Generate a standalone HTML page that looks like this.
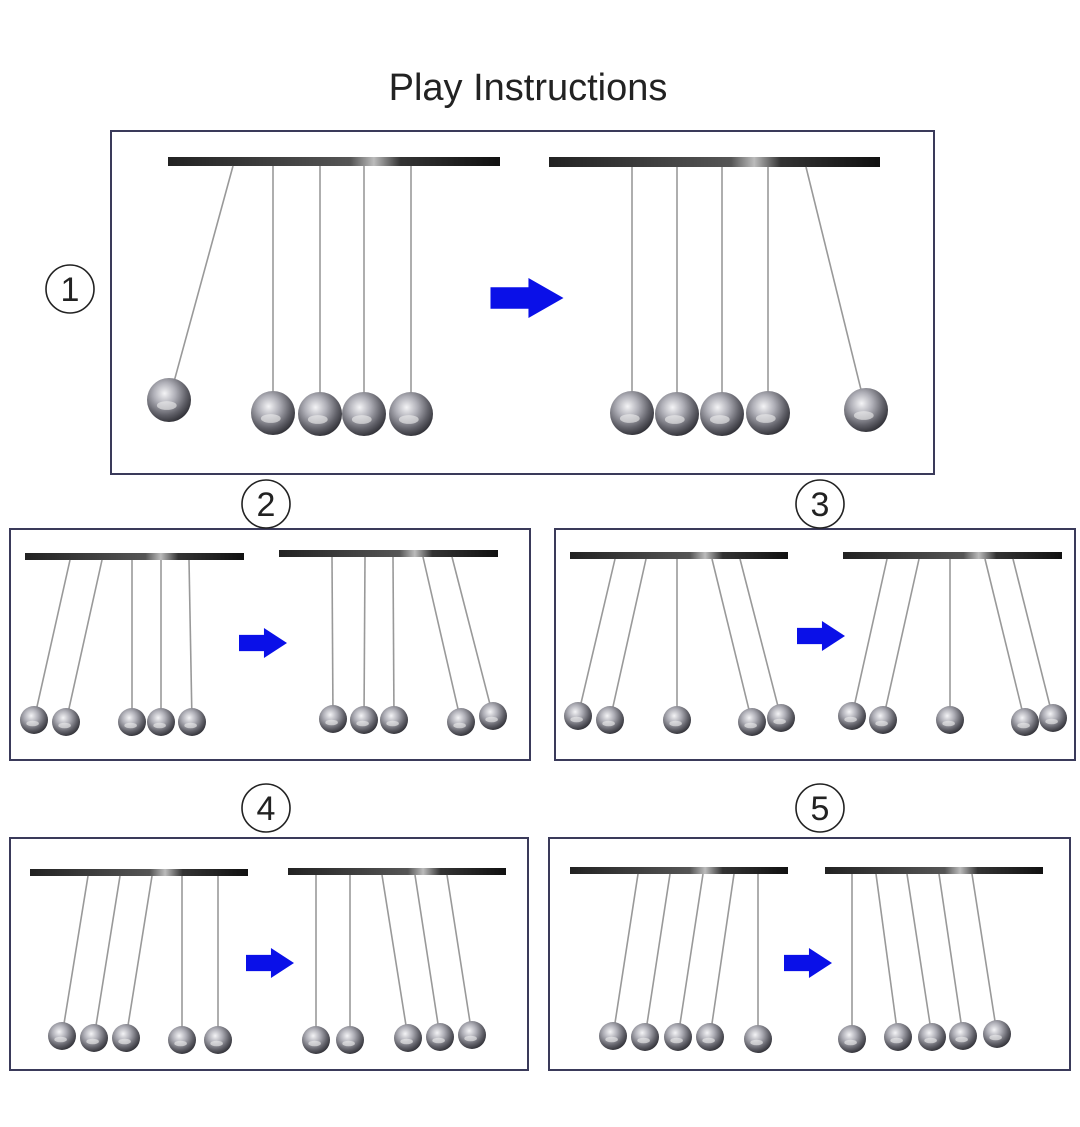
<!DOCTYPE html>
<html><head><meta charset="utf-8"><style>
html,body{margin:0;padding:0;background:#fff;width:1080px;height:1127px;overflow:hidden}
svg{display:block}
</style></head><body>
<svg id="s" width="1080" height="1127" viewBox="0 0 1080 1127" xmlns="http://www.w3.org/2000/svg">
<defs>
<radialGradient id="ball" cx="0.4" cy="0.35" r="0.7">
<stop offset="0" stop-color="#f4f4f6"/>
<stop offset="0.35" stop-color="#b0b0b8"/>
<stop offset="0.7" stop-color="#62626a"/>
<stop offset="1" stop-color="#2a2a30"/>
</radialGradient>
<linearGradient id="bar" x1="0" y1="0" x2="1" y2="0">
<stop offset="0" stop-color="#222"/>
<stop offset="0.55" stop-color="#555"/>
<stop offset="0.62" stop-color="#bbb"/>
<stop offset="0.7" stop-color="#333"/>
<stop offset="1" stop-color="#111"/>
</linearGradient>
</defs>
<text x="528" y="100" font-family="Liberation Sans, sans-serif" font-size="38" text-anchor="middle" fill="#222">Play Instructions</text>
<g fill="none" stroke="#3a3a5a" stroke-width="2">
<rect x="111" y="131" width="823" height="343"/>
<rect x="10" y="529" width="520" height="231"/>
<rect x="555" y="529" width="520" height="231"/>
<rect x="10" y="838" width="518" height="232"/>
<rect x="549" y="838" width="521" height="232"/>
</g>
<g fill="#fff" stroke="#222" stroke-width="1.6">
<circle cx="70" cy="289" r="24"/>
<circle cx="266" cy="504" r="24"/>
<circle cx="820" cy="504" r="24"/>
<circle cx="266" cy="808" r="24"/>
<circle cx="820" cy="808" r="24"/>
</g>
<g font-family="Liberation Sans, sans-serif" font-size="34" text-anchor="middle" fill="#222">
<text x="70" y="301">1</text>
<text x="266" y="516">2</text>
<text x="820" y="516">3</text>
<text x="266" y="820">4</text>
<text x="820" y="820">5</text>
</g>
<g id="g"></g>
</svg>
<script>
var g=document.getElementById('g'),h='';
function bar(x1,x2,y,t){h+='<rect x="'+x1+'" y="'+y+'" width="'+(x2-x1)+'" height="'+t+'" fill="url(#bar)"/>';}
function balls(barY,tops,bs,r){for(var i=0;i<bs.length;i++){var b=bs[i],t=tops[i];
var dx=t-b[0],dy=barY-b[1],L=Math.sqrt(dx*dx+dy*dy);
h+='<line x1="'+t+'" y1="'+barY+'" x2="'+(b[0]+dx/L*r*0.9)+'" y2="'+(b[1]+dy/L*r*0.9)+'" stroke="#999" stroke-width="1.6"/>';
h+='<circle cx="'+b[0]+'" cy="'+b[1]+'" r="'+r+'" fill="url(#ball)"/>';
h+='<ellipse cx="'+(b[0]-r*0.1)+'" cy="'+(b[1]+r*0.25)+'" rx="'+r*0.45+'" ry="'+r*0.2+'" fill="#eee" opacity="0.6"/>';}}
function arrow(cx,cy,w,hh){var x0=cx-w/2,x1=cx+w*0.02,x2=cx+w/2,s=hh*0.27;
h+='<polygon points="'+x0+','+(cy-s)+' '+x1+','+(cy-s)+' '+x1+','+(cy-hh/2)+' '+x2+','+cy+' '+x1+','+(cy+hh/2)+' '+x1+','+(cy+s)+' '+x0+','+(cy+s)+'" fill="#0a10e8"/>';}
bar(168,500,157,9);bar(549,880,157,10);
balls(166,[233,273,320,364,411],[[169,400],[273,413],[320,414],[364,414],[411,414]],22);
balls(167,[632,677,722,768,806],[[632,413],[677,414],[722,414],[768,413],[866,410]],22);
arrow(527,298,73,40);
bar(25,244,553,7);bar(279,498,550,7);
balls(560,[70,102,132,161,189],[[34,720],[66,722],[132,722],[161,722],[192,722]],14);
balls(557,[332,365,393,423,452],[[333,719],[364,720],[394,720],[461,722],[493,716]],14);
arrow(263,643,48,30);
bar(570,788,552,7);bar(843,1062,552,7);
balls(559,[615,646,677,712,740],[[578,716],[610,720],[677,720],[752,722],[781,718]],14);
balls(559,[887,919,950,985,1013],[[852,716],[883,720],[950,720],[1025,722],[1053,718]],14);
arrow(821,636,48,30);
bar(30,248,869,7);bar(288,506,868,7);
balls(876,[88,120,152,182,218],[[62,1036],[94,1038],[126,1038],[182,1040],[218,1040]],14);
balls(875,[316,350,382,415,447],[[316,1040],[350,1040],[408,1038],[440,1037],[472,1035]],14);
arrow(270,963,48,30);
bar(570,788,867,7);bar(825,1043,867,7);
balls(874,[638,670,703,734,758],[[613,1036],[645,1037],[678,1037],[710,1037],[758,1039]],14);
balls(874,[852,876,907,939,972],[[852,1039],[898,1037],[932,1037],[963,1036],[997,1034]],14);
arrow(808,963,48,30);
g.innerHTML=h;
</script>
</body></html>
